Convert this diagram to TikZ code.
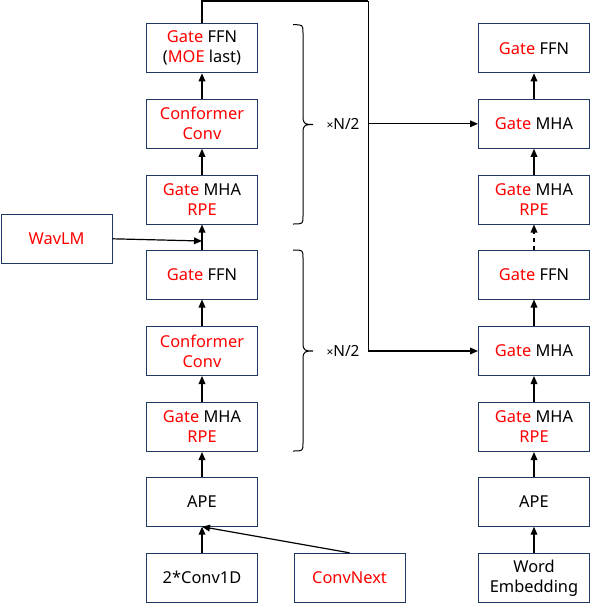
\documentclass[tikz,border=0pt]{standalone}
\usepackage{fontspec}
\setmainfont{Noto Sans}
\usetikzlibrary{arrows.meta}
\definecolor{boxnavy}{RGB}{32,56,100}
\newcommand{\redgate}{\textcolor{red}{Gate}}
\newcommand{\redtxt}[1]{\textcolor{red}{#1}}
\tikzset{
	blk/.style={draw=boxnavy, line width=0.75pt, minimum width=83.25pt, minimum height=36.75pt, inner sep=0pt, align=center, font=\fontsize{12.3}{15}\selectfont},
	arr/.style={-{Triangle[length=6pt,width=5pt]}, line width=0.9pt},
	bracer/.style={line width=0.75pt}
}
\begin{document}
\begin{tikzpicture}[x=0.75pt,y=-0.75pt]
		\useasboundingbox (0,0) rectangle (591,607);
	
		\node[blk] (lffn2) at (202,48.3) {\redgate{} FFN\\(\redtxt{MOE} last)};
		\node[blk] (lconv2) at (202,123.8) {\redtxt{Conformer}\\\redtxt{Conv}};
		\node[blk] (lmhar2) at (202,199.5) {\redgate{} MHA\\\redtxt{RPE}};
		\node[blk] (lffn1) at (202,274.5) {\redgate{} FFN};
		\node[blk] (lconv1) at (202,351) {\redtxt{Conformer}\\\redtxt{Conv}};
		\node[blk] (lmhar1) at (202,427) {\redgate{} MHA\\\redtxt{RPE}};
		\node[blk] (lape) at (202,501.7) {APE};
		\node[blk] (conv1d) at (202,577.8) {2*Conv1D};
		\node[blk] (convnext) at (349.5,577.8) {\redtxt{ConvNext}};
		\node[blk] (wavlm) at (56.6,238.8) {\redtxt{WavLM}};
	
		\node[blk] (rffn2) at (534,48.3) {\redgate{} FFN};
		\node[blk] (rmha2) at (534,123.8) {\redgate{} MHA};
		\node[blk] (rmhar2) at (534,199.5) {\redgate{} MHA\\\redtxt{RPE}};
		\node[blk] (rffn1) at (534,274.5) {\redgate{} FFN};
		\node[blk] (rmha1) at (534,351) {\redgate{} MHA};
		\node[blk] (rmhar1) at (534,427) {\redgate{} MHA\\\redtxt{RPE}};
		\node[blk] (rape) at (534,501.7) {APE};
		\node[blk] (rword) at (534,577.8) {Word\\Embedding};
	
		\node[font=\fontsize{11.5}{13}\selectfont] (rep2) at (343,124) {{\small ×}N/2};
		\node[font=\fontsize{11.5}{13}\selectfont] (rep1) at (343,351) {{\small ×}N/2};
		\coordinate (loop) at (368.3,1);
		\coordinate (join) at (202,241);
	
		\draw[bracer] (293,24.7) .. controls (303,24.7) .. (303,33) -- (303,117) .. controls (303,124.5) and (306,124.5) .. (313,124.5) .. controls (306,124.5) and (303,124.5) .. (303,132) -- (303,216) .. controls (303,224) .. (293,224);
		\draw[bracer] (293,250) .. controls (303,250) .. (303,258) -- (303,343.5) .. controls (303,351) and (306,351) .. (313,351) .. controls (306,351) and (303,351) .. (303,358.5) -- (303,443) .. controls (303,451) .. (293,451);
	
		\draw[arr] (conv1d) -- (lape);
		\draw[arr] (convnext.north) -- (lape.south);
		\draw[arr] (lape) -- (lmhar1);
		\draw[arr] (lmhar1) -- (lconv1);
		\draw[arr] (lconv1) -- (lffn1);
		\draw[arr] (lffn1) -- (lmhar2);
		\draw[arr] (lmhar2) -- (lconv2);
		\draw[arr] (lconv2) -- (lffn2);
		\draw[arr] (wavlm.east) -- (join);
	
		\draw[line width=0.9pt] (lffn2.north) |- (loop);
		\draw[arr] (loop) |- (rmha1.west);
		\draw[arr] (loop |- rmha2.west) -- (rmha2.west);
	
		\draw[arr] (rword) -- (rape);
		\draw[arr] (rape) -- (rmhar1);
		\draw[arr] (rmhar1) -- (rmha1);
		\draw[arr] (rmha1) -- (rffn1);
		\draw[arr, dashed] (rffn1) -- (rmhar2);
		\draw[arr] (rmhar2) -- (rmha2);
		\draw[arr] (rmha2) -- (rffn2);
	\end{tikzpicture}
\end{document}
